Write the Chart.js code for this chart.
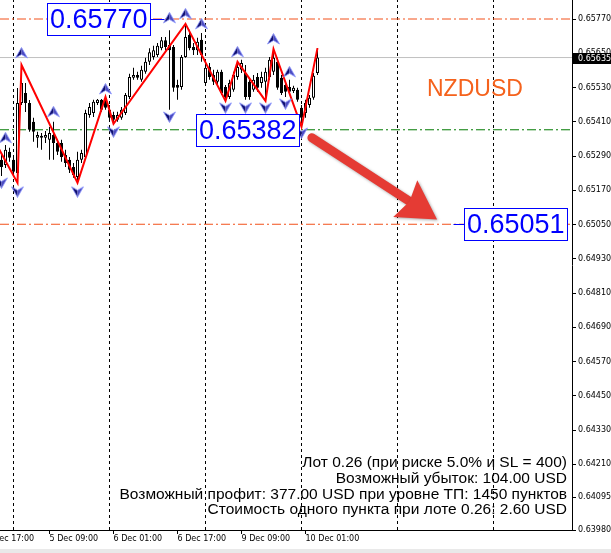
<!DOCTYPE html>
<html>
<head>
<meta charset="utf-8">
<script src="https://cdn.jsdelivr.net/npm/chart.js@4/dist/chart.umd.min.js"></script>
<style>
  html, body { margin: 0; padding: 0; background: #e9e9e9; }
  #wrap { position: relative; width: 611px; height: 549px; background: #fff; }
</style>
</head>
<body>
<div id="wrap"><canvas id="c" width="611" height="549"></canvas></div>
<script>
// NZDUSD H1, MT4-style: candles as floating bars, zigzag, fractals, level lines and labels.

// bar index 0 = 5 Dec 00:00, one bar per hour (weekend skipped)
const FIRST_BAR = -3;
const open  = [0.65277,0.65259,0.65305,0.65277,0.65231,0.65476,0.65511,0.65476,0.65410,0.65354,
               0.65361,0.65354,0.65347,0.65364,0.65336,0.65336,0.65294,0.65277,0.65252,0.65217,
               0.65277,0.65287,0.65434,0.65441,0.65476,0.65487,0.65487,0.65452,0.65434,0.65417,
               0.65424,0.65441,0.65497,0.65564,0.65574,0.65557,0.65585,0.65620,0.65637,0.65644,
               0.65668,0.65696,0.65679,0.65672,0.65539,0.65532,0.65637,0.65714,0.65672,0.65661,
               0.65697,0.65546,0.65602,0.65574,0.65550,0.65585,0.65532,0.65497,0.65522,0.65567,
               0.65592,0.65581,0.65550,0.65522,0.65567,0.65546,0.65550,0.65567,0.65585,0.65620,
               0.65564,0.65539,0.65532,0.65518,0.65522,0.65459,0.65441,0.65469,0.65494,0.65581];
const high  = [0.65294,0.65329,0.65319,0.65294,0.65528,0.65609,0.65546,0.65486,0.65424,0.65375,
               0.65371,0.65378,0.65392,0.65410,0.65347,0.65347,0.65312,0.65287,0.65266,0.65305,
               0.65312,0.65452,0.65476,0.65487,0.65490,0.65490,0.65497,0.65469,0.65445,0.65445,
               0.65462,0.65511,0.65578,0.65599,0.65585,0.65606,0.65634,0.65668,0.65676,0.65686,
               0.65707,0.65707,0.65731,0.65679,0.65557,0.65644,0.65753,0.65732,0.65686,0.65704,
               0.65721,0.65620,0.65616,0.65592,0.65592,0.65592,0.65539,0.65557,0.65585,0.65620,
               0.65627,0.65609,0.65564,0.65574,0.65581,0.65585,0.65599,0.65637,0.65665,0.65634,
               0.65574,0.65550,0.65557,0.65536,0.65529,0.65469,0.65487,0.65504,0.65581,0.65668];
const low   = [0.65220,0.65248,0.65270,0.65224,0.65196,0.65469,0.65444,0.65375,0.65340,0.65319,
               0.65312,0.65336,0.65277,0.65277,0.65294,0.65270,0.65252,0.65231,0.65214,0.65196,
               0.65266,0.65284,0.65424,0.65427,0.65469,0.65445,0.65452,0.65417,0.65403,0.65410,
               0.65417,0.65434,0.65490,0.65557,0.65557,0.65550,0.65578,0.65609,0.65627,0.65637,
               0.65661,0.65661,0.65452,0.65515,0.65487,0.65522,0.65634,0.65661,0.65644,0.65644,
               0.65620,0.65539,0.65557,0.65539,0.65539,0.65504,0.65483,0.65490,0.65515,0.65557,
               0.65581,0.65487,0.65487,0.65515,0.65515,0.65529,0.65483,0.65557,0.65574,0.65522,
               0.65504,0.65497,0.65508,0.65511,0.65480,0.65392,0.65424,0.65459,0.65487,0.65574];
const close = [0.65252,0.65312,0.65284,0.65235,0.65476,0.65546,0.65476,0.65382,0.65375,0.65364,
               0.65354,0.65364,0.65371,0.65336,0.65305,0.65287,0.65266,0.65242,0.65224,0.65277,
               0.65301,0.65441,0.65462,0.65480,0.65487,0.65452,0.65459,0.65424,0.65417,0.65434,
               0.65452,0.65504,0.65567,0.65574,0.65564,0.65592,0.65620,0.65654,0.65661,0.65676,
               0.65696,0.65672,0.65661,0.65529,0.65529,0.65637,0.65707,0.65668,0.65661,0.65690,
               0.65644,0.65599,0.65567,0.65550,0.65585,0.65511,0.65497,0.65546,0.65574,0.65602,
               0.65616,0.65497,0.65497,0.65557,0.65529,0.65567,0.65585,0.65627,0.65634,0.65529,
               0.65511,0.65515,0.65515,0.65529,0.65487,0.65424,0.65476,0.65494,0.65571,0.65635];

const zigzagBars   = [-5, 1, 2, 16, 23, 25, 43, 53, 56, 63, 65, 72, 76];
const zigzagPrices = [0.65350, 0.65196, 0.65609, 0.65196, 0.65497, 0.65403, 0.65753,
                      0.65483, 0.65620, 0.65483, 0.65665, 0.65392, 0.65668];

const fractalUpBars     = [-2, 2, 10, 23, 39, 43, 47, 56, 65, 69];
const fractalUpPrices   = [0.65354, 0.65651, 0.65445, 0.65525, 0.65774, 0.65788, 0.65753, 0.65655, 0.65700, 0.65585];
const fractalDownBars   = [-3, 1, 16, 25, 39, 53, 58, 63, 68, 72];
const fractalDownPrices = [0.65196, 0.65165, 0.65165, 0.65375, 0.65427, 0.65459, 0.65459, 0.65459, 0.65473, 0.65371];

const levelPrices = [0.65770, 0.65382, 0.65051];
const levelLabels = ['0.65770', '0.65382', '0.65051'];
const bidPrice = 0.65635;

const separatorBars = [0, 24, 48, 72, 96, 120];
const xTickBars   = [-7, 9, 25, 41, 57, 73];
const xTickLabels = ['4 Dec 17:00', '5 Dec 09:00', '6 Dec 01:00', '6 Dec 17:00', '9 Dec 09:00', '10 Dec 01:00'];
const yTickValues = [0.65770, 0.65650, 0.65530, 0.65410, 0.65290, 0.65170, 0.65050, 0.64930,
                     0.64810, 0.64690, 0.64570, 0.64450, 0.64330, 0.64210, 0.64095, 0.63980];

const symbolName = 'NZDUSD';
const infoLines = [
  'Лот 0.26 (при риске 5.0% и SL = 400)',
  'Возможный убыток: 104.00 USD',
  'Возможный профит: 377.00 USD при уровне ТП: 1450 пунктов',
  'Стоимость одного пункта при лоте 0.26: 2.60 USD',
];

// view window (4 px per bar)
const X_MIN = -3.375, X_MAX = 139.625;
const Y_MIN = 0.63980, Y_MAX = 0.658366;

// where the price boxes sit (bar of the box's left edge) and the big arrow
const levelBoxBars = [8.4, 45.6, 112.6];
const levelConnector = ['right', null, 'left'];
const arrowFrom = { bar: 74.6, price: 0.65354 };
const arrowTo   = { bar: 105.9, price: 0.65068 };

const ORANGE = '#f2501a';
const bars = open.map((_, i) => FIRST_BAR + i);
const pts = (xs, ys) => xs.map((x, i) => ({ x, y: ys[i] }));
const hline = (p) => [{ x: X_MIN, y: p }, { x: X_MAX, y: p }];

function fractalIcon(up) {
  const c = document.createElement('canvas');
  c.width = 13; c.height = 12;
  const g = c.getContext('2d');
  const tip = up ? 0.5 : 11.5, foot = up ? 11 : 1, notch = up ? 7.5 : 4.5;
  g.beginPath(); g.moveTo(6.5, tip); g.lineTo(0.5, foot); g.lineTo(6.5, notch); g.closePath();
  g.fillStyle = '#101070'; g.fill();
  g.beginPath(); g.moveTo(6.5, tip); g.lineTo(12.5, foot); g.lineTo(6.5, notch); g.closePath();
  g.fillStyle = '#4c4cc0'; g.fill();
  g.beginPath(); g.moveTo(6.5, tip); g.lineTo(12.5, foot); g.lineTo(6.5, notch); g.lineTo(0.5, foot); g.closePath();
  g.strokeStyle = 'rgba(140,150,255,0.8)'; g.lineWidth = 1; g.stroke();
  return c;
}

const overlays = {
  id: 'overlays',
  afterDatasetsDraw(chart) {
    const { ctx, chartArea: a, scales: { x: xs, y: ys } } = chart;
    ctx.save();
    ctx.beginPath(); ctx.rect(a.left, a.top, a.right - a.left, a.bottom - a.top); ctx.clip();

    // price boxes
    ctx.font = '27px "Liberation Sans", Arial, sans-serif';
    ctx.textBaseline = 'middle';
    levelLabels.forEach((t, i) => {
      const w = Math.round(ctx.measureText(t).width) + 5;
      const x0 = Math.round(xs.getPixelForValue(levelBoxBars[i])) + 0.5;
      const yc = Math.round(ys.getPixelForValue(levelPrices[i])) + 0.5;
      ctx.strokeStyle = '#0000ff'; ctx.lineWidth = 1;
      if (levelConnector[i] === 'right') { ctx.beginPath(); ctx.moveTo(x0 + w, yc); ctx.lineTo(x0 + w + 14, yc); ctx.stroke(); }
      if (levelConnector[i] === 'left') { ctx.beginPath(); ctx.moveTo(x0 - 11, yc); ctx.lineTo(x0, yc); ctx.stroke(); }
      ctx.fillStyle = '#fff'; ctx.fillRect(x0, yc - 16, w, 32);
      ctx.strokeRect(x0, yc - 16, w, 32);
      ctx.fillStyle = '#0000ff'; ctx.fillText(t, x0 + 2.5, yc + 1);
    });

    // symbol
    ctx.font = '23px "Liberation Sans", Arial, sans-serif';
    ctx.fillStyle = '#f5621c';
    ctx.fillText(symbolName, a.left + 427, a.top + 90);

    // big red arrow
    const p0 = { x: xs.getPixelForValue(arrowFrom.bar), y: ys.getPixelForValue(arrowFrom.price) };
    const p1 = { x: xs.getPixelForValue(arrowTo.bar), y: ys.getPixelForValue(arrowTo.price) };
    const dx = p1.x - p0.x, dy = p1.y - p0.y, len = Math.hypot(dx, dy);
    const ux = dx / len, uy = dy / len, nx = -uy, ny = ux;
    const headLen = 38, headHalf = 22;
    const bx = p1.x - ux * headLen, by = p1.y - uy * headLen;
    ctx.shadowColor = 'rgba(0,0,0,0.35)'; ctx.shadowBlur = 3; ctx.shadowOffsetX = 1; ctx.shadowOffsetY = 1;
    ctx.strokeStyle = '#e53b34'; ctx.fillStyle = '#e53b34';
    ctx.lineWidth = 9; ctx.lineCap = 'round';
    ctx.beginPath(); ctx.moveTo(p0.x, p0.y); ctx.lineTo(bx + ux * 4, by + uy * 4); ctx.stroke();
    ctx.beginPath();
    ctx.moveTo(p1.x, p1.y);
    ctx.lineTo(bx + nx * headHalf, by + ny * headHalf);
    ctx.lineTo(bx + ux * 5, by + uy * 5);
    ctx.lineTo(bx - nx * headHalf, by - ny * headHalf);
    ctx.closePath(); ctx.fill();
    ctx.shadowColor = 'transparent';

    // risk info block, bottom right
    ctx.font = '15.5px "Liberation Sans", Arial, sans-serif';
    ctx.fillStyle = '#000'; ctx.textAlign = 'right';
    infoLines.forEach((t, i) => ctx.fillText(t, a.right - 5, a.bottom - 67 + i * 15.7));
    ctx.restore();
  },
  afterDraw(chart) {
    const { ctx, chartArea: a, scales: { y: ys } } = chart;
    const yc = Math.round(ys.getPixelForValue(bidPrice));
    ctx.save();
    ctx.fillStyle = '#000';
    ctx.fillRect(a.right + 1, yc - 5, chart.width - a.right, 11);
    ctx.fillStyle = '#fff';
    ctx.font = '8px "DejaVu Sans", sans-serif';
    ctx.textBaseline = 'middle';
    ctx.fillText(bidPrice.toFixed(5), a.right + 6, yc + 1);
    ctx.restore();
  },
};

const axisFont = { family: '"DejaVu Sans", sans-serif', size: 8 };

new Chart(document.getElementById('c'), {
  type: 'bar',
  data: {
    datasets: [
      ...separatorBars.map((b) => ({
        type: 'line', data: [{ x: b, y: Y_MIN }, { x: b, y: Y_MAX }],
        borderColor: '#000', borderWidth: 1, borderDash: [3, 3], pointRadius: 0, order: 20,
      })),
      { type: 'line', data: hline(bidPrice), borderColor: '#c0c0c0', borderWidth: 1, pointRadius: 0, order: 19 },
      { type: 'line', data: hline(levelPrices[0]), borderColor: ORANGE, borderWidth: 1, borderDash: [9, 3, 2, 3], pointRadius: 0, order: 18 },
      { type: 'line', data: hline(levelPrices[1]), borderColor: '#007a00', borderWidth: 1, borderDash: [9, 3, 2, 3], pointRadius: 0, order: 18 },
      { type: 'line', data: hline(levelPrices[2]), borderColor: ORANGE, borderWidth: 1, borderDash: [9, 3, 2, 3], pointRadius: 0, order: 18 },
      {
        // wicks
        data: bars.map((b, i) => ({ x: b, y: [low[i], high[i]] })),
        backgroundColor: '#000', borderWidth: 0, maxBarThickness: 1, order: 10,
      },
      {
        // bodies
        data: bars.map((b, i) => ({ x: b, y: [open[i], close[i]] })),
        backgroundColor: (c) => close[c.dataIndex] >= open[c.dataIndex] ? '#fff' : '#000',
        borderColor: '#000', borderWidth: 1, borderSkipped: false, maxBarThickness: 3, minBarLength: 1, order: 9,
      },
      {
        type: 'line', data: pts(zigzagBars, zigzagPrices),
        borderColor: '#ff0000', borderWidth: 2, pointRadius: 0, tension: 0, order: 5,
      },
      {
        type: 'line', data: pts(fractalUpBars, fractalUpPrices), showLine: false,
        pointStyle: fractalIcon(true), pointRadius: 6, order: 4,
      },
      {
        type: 'line', data: pts(fractalDownBars, fractalDownPrices), showLine: false,
        pointStyle: fractalIcon(false), pointRadius: 6, order: 4,
      },
    ],
  },
  options: {
    responsive: false,
    animation: false,
    events: [],
    layout: { padding: 0, autoPadding: false },
    datasets: { bar: { grouped: false, barPercentage: 1, categoryPercentage: 1, inflateAmount: 0 } },
    plugins: { legend: { display: false }, tooltip: { enabled: false } },
    scales: {
      x: {
        type: 'linear', min: X_MIN, max: X_MAX, offset: false,
        grid: { drawOnChartArea: false, drawTicks: true, tickLength: 4, color: '#000', offset: false },
        border: { display: true, color: '#000' },
        ticks: {
          autoSkip: false, maxRotation: 0, align: 'start', padding: 0, color: '#000', font: axisFont,
          callback: (v, i) => xTickLabels[i],
        },
        afterBuildTicks: (s) => { s.ticks = xTickBars.map((v) => ({ value: v })); },
        afterFit: (s) => { s.height = 19; s.paddingLeft = 0; s.paddingRight = 0; },
      },
      y: {
        type: 'linear', position: 'right', min: Y_MIN, max: Y_MAX,
        grid: { drawOnChartArea: false, drawTicks: true, tickLength: 4, color: '#000' },
        border: { display: true, color: '#000' },
        ticks: { autoSkip: false, padding: 2, color: '#000', font: axisFont, callback: (v) => v.toFixed(5) },
        afterBuildTicks: (s) => { s.ticks = yTickValues.map((v) => ({ value: v })); },
        afterFit: (s) => { s.width = 39; s.paddingTop = 0; s.paddingBottom = 0; },
      },
    },
  },
  plugins: [overlays],
});
</script>
</body>
</html>
